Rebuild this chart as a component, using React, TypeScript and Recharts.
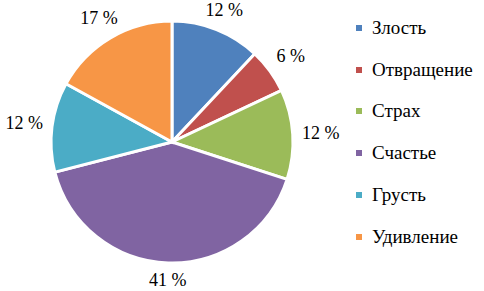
import React from 'react';
import {Cell, Legend, Pie, PieChart} from 'recharts';

const EMOTIONS = ['Злость', 'Отвращение', 'Страх', 'Счастье', 'Грусть', 'Удивление'];
const SHARES = [12, 6, 12, 41, 12, 17];
const COLORS = ['#4F81BD', '#C0504D', '#9BBB59', '#8064A2', '#4BACC6', '#F79646'];

const FONT = 'Liberation Serif, DejaVu Serif, serif';
const RAD = Math.PI / 180;

const chartData = EMOTIONS.map((name, i) => ({name, value: SHARES[i]}));

const renderLabel = (props: any) => {
  const {cx, cy, midAngle, outerRadius, value} = props;
  const c = Math.cos(-midAngle * RAD);
  const s = Math.sin(-midAngle * RAD);
  const d = outerRadius + 17 + 11 * Math.abs(c);
  return (
      <text
          x={cx + d * c}
          y={cy + d * s}
          textAnchor="middle"
          dominantBaseline="central"
          style={{fontFamily: FONT}}
          fontSize={18}
          fill="#000"
      >
        {`${value} %`}
      </text>
  );
};

const renderLegend = () => (
    <div style={{fontFamily: FONT, fontSize: 19, color: '#000'}}>
      {EMOTIONS.map((name, i) => (
          <div key={name} style={{display: 'flex', alignItems: 'center', height: 41.8}}>
            <span style={{width: 6, height: 6, background: COLORS[i], marginRight: 10, display: 'inline-block'}}/>
            <span>{name}</span>
          </div>
      ))}
    </div>
);

export default function App() {
  return (
      <div style={{position: 'absolute', left: 0, top: 0, width: 484, height: 291, background: '#fff'}}>
        <PieChart width={484} height={291} margin={{top: 0, right: 0, bottom: 0, left: 0}}>
          <Pie
              data={chartData}
              dataKey="value"
              nameKey="name"
              cx={172}
              cy={142}
              outerRadius={121}
              startAngle={90}
              endAngle={-270}
              stroke="#fff"
              strokeWidth={3}
              label={renderLabel}
              labelLine={false}
              isAnimationActive={false}
          >
            {chartData.map((_entry, index) => (
                <Cell key={`cell-${index}`} fill={COLORS[index]}/>
            ))}
          </Pie>
          <Legend
              layout="vertical"
              content={renderLegend}
              wrapperStyle={{left: 356, top: 7, width: 128}}
          />
        </PieChart>
      </div>
  );
}
